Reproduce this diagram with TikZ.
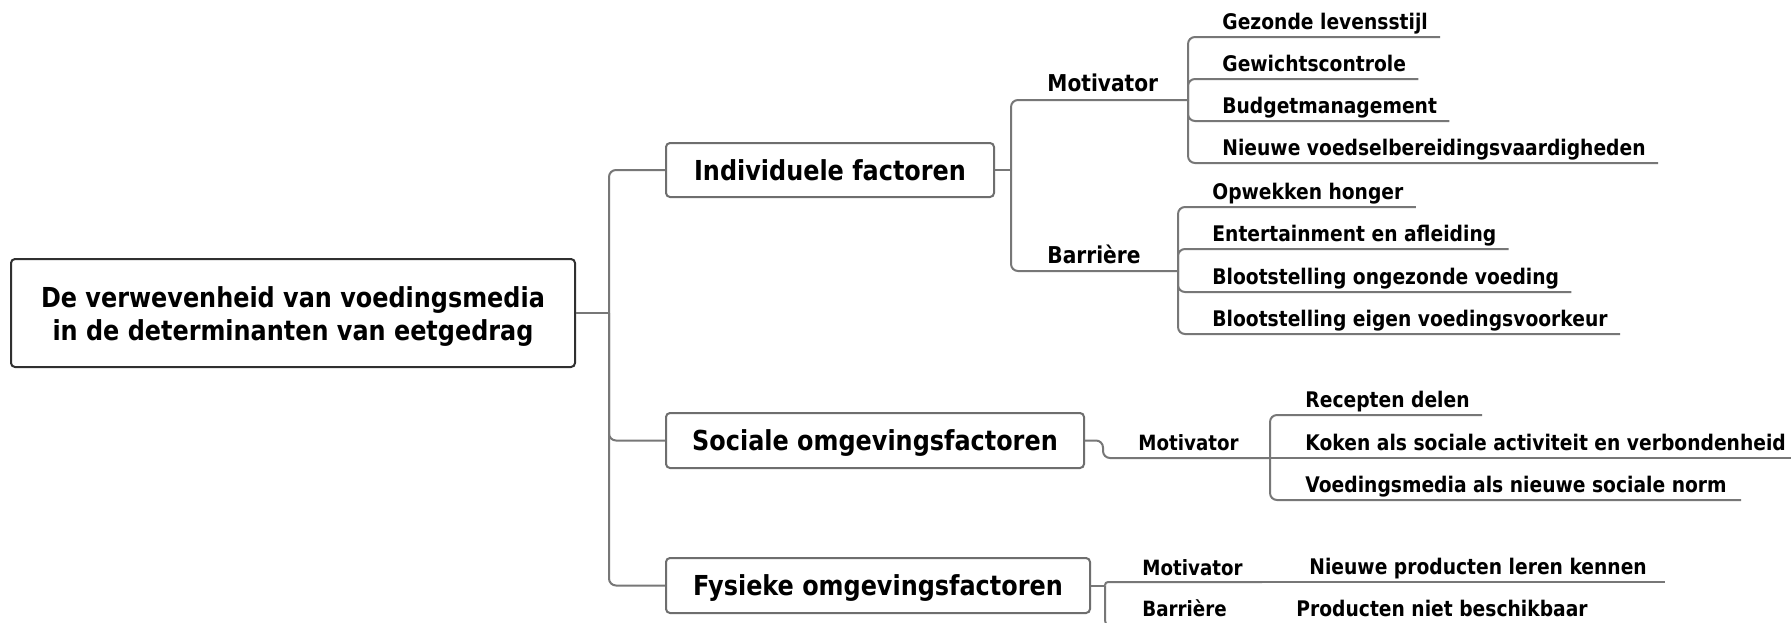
\documentclass[tikz,border=0pt]{standalone}
\usepackage{fontspec}
\setmainfont{DejaVu Sans}[FakeStretch=0.87]
\definecolor{linec}{HTML}{777777}
\definecolor{boxc}{HTML}{6E6E6E}
\definecolor{rootc}{HTML}{303030}
\begin{document}
\begin{tikzpicture}[x=0.5pt,y=-0.5pt,
  conn/.style={draw=linec, line width=1pt, rounded corners=3.5pt},
  mainbox/.style={draw=boxc, line width=1pt, rounded corners=2pt, fill=white,
    font=\fontsize{13.75}{16.5}\selectfont\bfseries, inner sep=0pt, align=center},
  onebox/.style={mainbox, text height=11pt, text depth=1pt},
  midlbl/.style={anchor=base west, inner sep=0pt, font=\fontsize{11.6}{14}\selectfont\bfseries},
  leaf/.style={anchor=base west, inner sep=0pt, font=\fontsize{10.75}{13}\selectfont\bfseries},
  smlbl/.style={anchor=base west, inner sep=0pt, font=\fontsize{10.5}{13}\selectfont\bfseries},
]
\useasboundingbox (0,0) rectangle (1791,622);
\fill[white] (0,0) rectangle (1791,622);

% main boxes
\node[mainbox, draw=rootc, minimum width=282pt, minimum height=54pt] (root) at (293,313)
  {\rule{0pt}{13.5pt}De verwevenheid van voedingsmedia\\in de determinanten van eetgedrag};
\node[onebox, minimum width=164pt, minimum height=27pt] (ind) at (830,170) {Individuele factoren};
\node[onebox, minimum width=209pt, minimum height=27.5pt] (soc) at (875,440.5) {Sociale omgevingsfactoren};
\node[onebox, minimum width=212pt, minimum height=27.5pt] (fys) at (878,585.5) {Fysieke omgevingsfactoren};

% root connectors
\coordinate (rj) at (609,313);
\draw[conn] (root.east) -- (rj);
\draw[conn] (rj) |- (ind.west);
\draw[conn] (rj) |- (soc.west);
\draw[conn] (rj) |- (fys.west);

% Individuele factoren
\coordinate (ij) at (1011,170);
\draw[conn] (ind.east) -- (ij);
\node[midlbl] (imot) at (1047,91.5) {Motivator};
\node[midlbl] (ibar) at (1047,263.5) {Barrière};
\coordinate (imotE) at (1188,100);
\coordinate (ibarE) at (1178,271);
\draw[conn] (ij) |- (imotE);
\draw[conn] (ij) |- (ibarE);

\node[leaf] (a1) at (1222,29) {Gezonde levensstijl};
\node[leaf] (a2) at (1222,71) {Gewichtscontrole};
\node[leaf] (a3) at (1222,113) {Budgetmanagement};
\node[leaf] (a4) at (1222,155) {Nieuwe voedselbereidingsvaardigheden};
\foreach \n in {a1,a2,a3,a4}
  \draw[conn] (imotE) |- ([shift={(12,8)}]\n.base east);

\node[leaf] (b1) at (1212,199) {Opwekken honger};
\node[leaf] (b2) at (1212,241) {Entertainment en afleiding};
\node[leaf] (b3) at (1212,284) {Blootstelling ongezonde voeding};
\node[leaf] (b4) at (1212,326) {Blootstelling eigen voedingsvoorkeur};
\foreach \n in {b1,b2,b3,b4}
  \draw[conn] (ibarE) |- ([shift={(12,8)}]\n.base east);

% Sociale omgevingsfactoren
\node[smlbl] (smot) at (1138,450) {Motivator};
\coordinate (smotE) at (1270,458);
\draw[conn] (soc.east) -- ++(18,0) |- (smotE);
\node[leaf] (c1) at (1305,407) {Recepten delen};
\node[leaf] (c2) at (1305,450) {Koken als sociale activiteit en verbondenheid};
\node[leaf] (c3) at (1305,492) {Voedingsmedia als nieuwe sociale norm};
\draw[conn] (smotE) |- ([shift={(12,8)}]c1.base east);
\draw[conn] (smotE) -- ([shift={(14,8)}]c2.base east);
\draw[conn] (smotE) |- ([shift={(14,8)}]c3.base east);

% Fysieke omgevingsfactoren
\node[smlbl] (fmot) at (1142,575) {Motivator};
\node[smlbl] (fbar) at (1142,616) {Barrière};
\node[leaf] (f1) at (1309,574) {Nieuwe producten leren kennen};
\node[leaf] (f2) at (1296,616) {Producten niet beschikbaar};
\coordinate (fj) at (1105,585.5);
\coordinate (fmotE) at (1262,582);
\draw[conn] (fys.east) -- (fj);
\draw[conn, rounded corners=1.5pt] (fj) |- (fmotE);
\draw[conn] (fmotE) -- ([shift={(18,8)}]f1.base east);
\draw[conn] (fj) |- ([shift={(14,11)}]f2.base east);
\end{tikzpicture}
\end{document}
